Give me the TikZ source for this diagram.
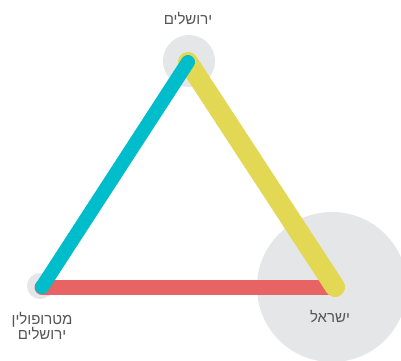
\documentclass[tikz,border=0pt]{standalone}
\usepackage{fontspec}
\TeXXeTstate=1
\newfontfamily\hebfont[Script=Hebrew]{Liberation Sans}
\definecolor{cyanline}{HTML}{00BDCC}
\definecolor{yellowline}{HTML}{E3D853}
\definecolor{redline}{HTML}{E86363}
\definecolor{halo}{HTML}{E5E6E8}
\definecolor{labelgray}{HTML}{555555}
\tikzset{
  haloc/.style={circle, fill=halo, inner sep=0pt, minimum size=#1},
  edge/.style={line width=#1, line cap=round},
  lbl/.style={text=labelgray, font=\hebfont\fontsize{15}{15.5}\selectfont, align=center, inner sep=0pt}
}
\begin{document}
\begin{tikzpicture}[x=1pt,y=-1pt]
\useasboundingbox (0,0) rectangle (401,360);
\clip (0,0) rectangle (401,360);
\fill[white] (0,0) rectangle (401,360);
% halos
\node[haloc=52pt] (hJ) at (189,61) {};
\node[haloc=26pt] (hM) at (40,286) {};
\node[haloc=150pt] (hI) at (332,287) {};
% endpoints
\coordinate (J) at (188,62);
\coordinate (M) at (42,287);
\coordinate (I) at (335,287);
% edges
\draw[edge=15pt, redline] (M) -- (I);
\draw[edge=20pt, yellowline] (J) -- (I);
\draw[edge=14pt, cyanline] (J) -- (M);
% labels
\node[lbl] (tJ) at (188,19) {\beginR ירושלים\endR};
\node[lbl] (tM) at (42,326) {\beginR מטרופולין\endR\\\beginR ירושלים\endR};
\node[lbl] (tI) at (330,317) {\beginR ישראל\endR};
\end{tikzpicture}
\end{document}
